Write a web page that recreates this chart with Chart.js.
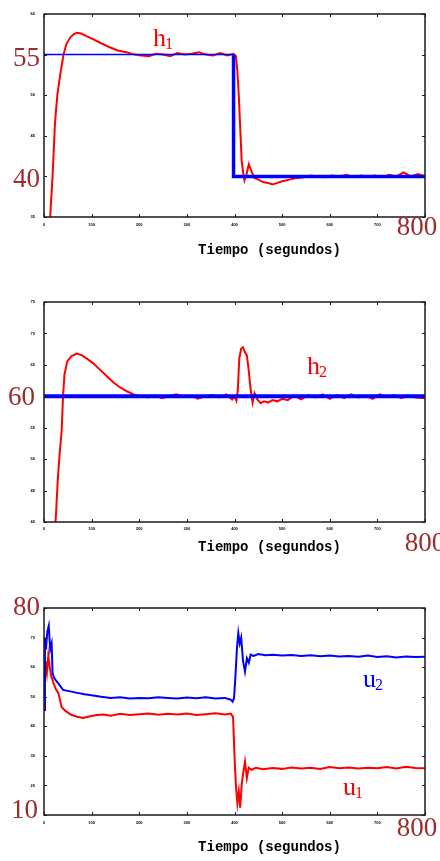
<!DOCTYPE html>
<html>
<head>
<meta charset="utf-8">
<script src="https://cdn.jsdelivr.net/npm/chart.js@4.4.1/dist/chart.umd.min.js"></script>
<style>
  body { margin: 0; background: #fff; width: 440px; height: 861px; position: relative; overflow: hidden; }
  canvas { position: absolute; left: 0; }
</style>
</head>
<body>
<canvas id="c1" width="440" height="260" style="top:0"></canvas>
<canvas id="c2" width="440" height="270" style="top:290px"></canvas>
<canvas id="c3" width="440" height="271" style="top:590px"></canvas>
<script>
// ---- data ----
const xTicks = [0, 100, 200, 300, 400, 500, 600, 700, 800];

// panel 1: level h1 and its setpoint
const h1Time = [0, 5, 10, 14, 18, 23, 28, 34, 41, 47, 55, 62, 69, 78, 88, 103, 120, 138, 155, 173, 190, 205, 220, 235, 250, 265, 280, 295, 310, 325, 340, 355, 370, 385, 398, 403, 406, 409, 412, 415, 418, 421, 425, 430, 436, 442, 450, 460, 470, 480, 490, 500, 515, 530, 545, 560, 575, 590, 605, 620, 635, 650, 665, 680, 695, 710, 725, 740, 755, 770, 785, 800];
const h1Values = [20, 24, 32, 36, 40, 46.5, 50, 52.5, 55, 56.3, 57.1, 57.5, 57.7, 57.6, 57.3, 56.9, 56.4, 55.9, 55.5, 55.3, 55.0, 54.9, 54.8, 55.1, 55.0, 54.8, 55.2, 55.0, 55.1, 55.3, 55.0, 54.9, 55.2, 54.9, 55.1, 54.8, 53, 50, 46, 42, 40.5, 39.5, 40.2, 41.5, 40.6, 39.8, 39.6, 39.3, 39.2, 39.0, 39.2, 39.4, 39.6, 39.8, 39.9, 40.1, 40.0, 39.9, 40.1, 40.0, 40.2, 39.9, 40.1, 40.0, 40.1, 39.9, 40.2, 40.0, 40.5, 40.0, 40.3, 40.0];
const sp1aTime = [0, 398];
const sp1aValues = [55, 55];
const sp1bTime = [398, 398, 800];
const sp1bValues = [55, 40, 40];
const y1Ticks = [35, 40, 45, 50, 55, 60];

// panel 2: level h2 and its setpoint
const h2Time = [0, 10, 20, 25, 29, 33, 37, 40, 43, 49, 58, 69, 80, 90, 104, 118, 132, 146, 160, 174, 188, 203, 218, 233, 248, 263, 278, 293, 308, 323, 338, 353, 368, 383, 395, 400, 404, 407, 410, 414, 418, 422, 426, 430, 434, 438, 442, 448, 455, 462, 470, 480, 490, 500, 512, 525, 540, 555, 570, 585, 600, 615, 630, 645, 660, 675, 690, 705, 720, 735, 750, 765, 780, 800];
const h2Values = [20, 25, 36, 41, 46.8, 51, 54.4, 60, 63.5, 65.6, 66.4, 66.8, 66.5, 66.0, 65.2, 64.2, 63.2, 62.2, 61.4, 60.8, 60.3, 60.0, 59.8, 60.1, 59.7, 60.0, 60.3, 59.9, 60.1, 59.6, 60.0, 60.2, 59.8, 60.3, 59.5, 60.0, 59.3, 61, 66, 67.6, 67.8, 67.0, 66.5, 64, 61, 59.0, 60.5, 59.5, 58.9, 59.2, 59.0, 59.4, 59.2, 59.6, 59.4, 60.1, 59.5, 60.2, 59.8, 60.3, 59.6, 60.2, 59.7, 60.3, 59.8, 60.1, 59.6, 60.3, 59.9, 60.2, 59.7, 60.1, 59.8, 59.7];
const sp2Time = [0, 800];
const sp2Values = [60, 60];
const y2Ticks = [40, 45, 50, 55, 60, 65, 70, 75];

// panel 3: control signals u1, u2
const u2Time = [0, 2, 4, 7, 10, 13, 16, 18, 21, 25, 30, 40, 55, 70, 85, 100, 120, 140, 160, 180, 200, 220, 240, 260, 280, 300, 320, 340, 360, 380, 392, 396, 399, 402, 405, 408, 411, 414, 418, 422, 426, 430, 434, 440, 450, 465, 480, 500, 520, 540, 560, 580, 600, 620, 640, 660, 680, 700, 720, 740, 760, 780, 800];
const u2Values = [45.5, 70, 66, 72, 74, 66, 68, 58, 56.5, 55.5, 54.5, 52.3, 51.8, 51.3, 50.8, 50.5, 50.0, 49.6, 49.8, 49.4, 49.6, 49.5, 49.8, 49.6, 49.4, 49.7, 49.5, 49.8, 49.4, 49.6, 49.0, 48.3, 49.5, 57, 66, 71.5, 68, 70, 62, 58.5, 63, 61.5, 64.2, 63.8, 64.4, 64.0, 64.2, 63.9, 64.1, 63.8, 64.0, 63.7, 63.9, 63.6, 63.8, 63.5, 63.9, 63.4, 63.7, 63.3, 63.6, 63.4, 63.5];
const u1Time = [0, 1, 3, 6, 9, 12, 15, 20, 25, 30, 37, 45, 58, 70, 82, 95, 110, 125, 140, 160, 180, 200, 220, 240, 260, 280, 300, 320, 340, 360, 380, 392, 397, 400, 403, 406, 409, 412, 415, 418, 422, 426, 430, 436, 445, 460, 480, 500, 520, 540, 560, 580, 600, 620, 640, 660, 680, 700, 720, 740, 760, 780, 800];
const u1Values = [46, 56, 62, 58, 64, 60, 57, 54.6, 52.5, 51.3, 46.5, 45.2, 43.8, 43.2, 42.8, 43.3, 43.8, 44.0, 43.6, 44.2, 43.8, 44.1, 44.3, 43.9, 44.2, 44.0, 44.3, 43.8, 44.1, 44.4, 44.0, 44.3, 43.2, 30, 20, 14, 18, 12.5, 20, 24, 28, 22.5, 26, 25.3, 26, 25.5, 25.9, 25.6, 26.1, 25.7, 26.0, 25.6, 26.2, 25.8, 26.1, 25.7, 26.0, 25.8, 26.2, 25.7, 26.3, 25.9, 25.8];
const y3Ticks = [10, 20, 30, 40, 50, 60, 70, 80];

// ---- helpers ----
const pts = (t, v) => t.map((x, i) => ({ x, y: v[i] }));
const brown = '#9b2d2d';

const framePlugin = {
  id: 'frame',
  afterDraw(chart, args, o) {
    const { ctx, chartArea: a, scales: { x, y } } = chart;
    ctx.save();
    ctx.strokeStyle = '#1a1a1a';
    ctx.lineWidth = 1.5;
    ctx.strokeRect(a.left, a.top, a.right - a.left, a.bottom - a.top);
    ctx.lineWidth = 1;
    ctx.beginPath();
    x.ticks.forEach(t => {
      const px = Math.round(x.getPixelForValue(t.value)) + 0.5;
      ctx.moveTo(px, a.top); ctx.lineTo(px, a.top + 3);
      ctx.moveTo(px, a.bottom); ctx.lineTo(px, a.bottom - 3);
    });
    y.ticks.forEach(t => {
      const py = Math.round(y.getPixelForValue(t.value)) + 0.5;
      ctx.moveTo(a.left, py); ctx.lineTo(a.left + 3, py);
      ctx.moveTo(a.right, py); ctx.lineTo(a.right - 3, py);
    });
    ctx.stroke();

    // big brown tick labels
    ctx.fillStyle = brown;
    ctx.font = '27px "Liberation Serif"';
    ctx.textBaseline = 'middle';
    ctx.textAlign = 'right';
    o.bigY.forEach(b => ctx.fillText(String(b.v), a.left - b.gap, y.getPixelForValue(b.v) + b.dy));
    ctx.textAlign = 'center';
    o.bigX.forEach(b => ctx.fillText(String(b.v), x.getPixelForValue(b.v) + b.dx, a.bottom + b.dy));

    // axis title
    ctx.fillStyle = '#000';
    ctx.font = 'bold 14px "Liberation Mono"';
    ctx.fillText('Tiempo (segundos)', (a.left + a.right) / 2 + 35, a.bottom + o.titleDy);

    // series names with subscripts
    ctx.textAlign = 'left';
    ctx.textBaseline = 'alphabetic';
    o.names.forEach(n => {
      const px = x.getPixelForValue(n.t), py = y.getPixelForValue(n.v);
      ctx.fillStyle = n.color;
      ctx.font = '26px "Liberation Serif"';
      ctx.fillText(n.text, px, py);
      const w = ctx.measureText(n.text).width;
      ctx.font = '16px "Liberation Serif"';
      ctx.fillText(n.sub, px + w - 1, py + 3);
    });
    ctx.restore();
  }
};

function makeChart(id, datasets, yMin, yMax, yStep, yBig, frame, box) {
  return new Chart(document.getElementById(id), {
    type: 'line',
    data: { datasets },
    plugins: [framePlugin],
    options: {
      responsive: false,
      animation: false,
      events: [],
      layout: { padding: { top: box.top, right: 15, left: 0, bottom: 0 } },
      elements: { point: { radius: 0 }, line: { tension: 0 } },
      plugins: { legend: { display: false }, tooltip: { enabled: false }, frame },
      scales: {
        x: {
          type: 'linear', min: 0, max: 800,
          afterBuildTicks: s => { s.ticks = xTicks.map(v => ({ value: v })); },
          afterFit: s => { s.height = box.xh; s.paddingLeft = 0; s.paddingRight = 0; },
          grid: { display: false, drawTicks: false },
          border: { display: false },
          ticks: {
            autoSkip: false, maxRotation: 0, padding: box.xpad,
            font: { size: 4, family: 'Liberation Sans', weight: 'bold' }, color: '#000',
            callback: v => (v === 800 ? '' : String(v))
          }
        },
        y: {
          min: yMin, max: yMax,
          ticks: {
            stepSize: yStep, padding: 9,
            font: { size: 4, family: 'Liberation Sans', weight: 'bold' }, color: '#000',
            callback: v => (yBig.includes(v) ? '' : String(v))
          },
          afterFit: s => { s.width = 44; s.paddingTop = 0; s.paddingBottom = 0; },
          grid: { display: false, drawTicks: false },
          border: { display: false }
        }
      }
    }
  });
}

makeChart('c1', [
  { data: pts(sp1aTime, sp1aValues), borderColor: '#0000ff', borderWidth: 1.5 },
  { data: pts(sp1bTime, sp1bValues), borderColor: '#0000ff', borderWidth: 3.5 },
  { data: pts(h1Time, h1Values), borderColor: '#ff0000', borderWidth: 2 }
], 35, 60, 5, [55, 40], {
  bigY: [{ v: 55, gap: 4, dy: 4 }, { v: 40, gap: 4, dy: 4 }],
  bigX: [{ v: 800, dx: -8, dy: 11 }],
  titleDy: 33,
  names: [{ text: 'h', sub: '1', t: 229, v: 56.1, color: '#ff0000' }]
}, { top: 14, xh: 43, xpad: 5 });

makeChart('c2', [
  { data: pts(sp2Time, sp2Values), borderColor: '#0000ff', borderWidth: 4 },
  { data: pts(h2Time, h2Values), borderColor: '#ff0000', borderWidth: 2 }
], 40, 75, 5, [60], {
  bigY: [{ v: 60, gap: 9, dy: 2 }],
  bigX: [{ v: 800, dx: 0, dy: 22 }],
  titleDy: 25,
  names: [{ text: 'h', sub: '2', t: 552, v: 63.6, color: '#ff0000' }]
}, { top: 12, xh: 38, xpad: 4 });

makeChart('c3', [
  { data: pts(u2Time, u2Values), borderColor: '#0000ff', borderWidth: 2 },
  { data: pts(u1Time, u1Values), borderColor: '#ff0000', borderWidth: 2 }
], 10, 80, 10, [10, 80], {
  bigY: [{ v: 80, gap: 4, dy: 0 }, { v: 10, gap: 6, dy: -4 }],
  bigX: [{ v: 800, dx: -8, dy: 14 }],
  titleDy: 32,
  names: [
    { text: 'u', sub: '2', t: 670, v: 53.4, color: '#0000ff' },
    { text: 'u', sub: '1', t: 628, v: 16.6, color: '#ff0000' }
  ]
}, { top: 18, xh: 46, xpad: 5 });
</script>
</body>
</html>
